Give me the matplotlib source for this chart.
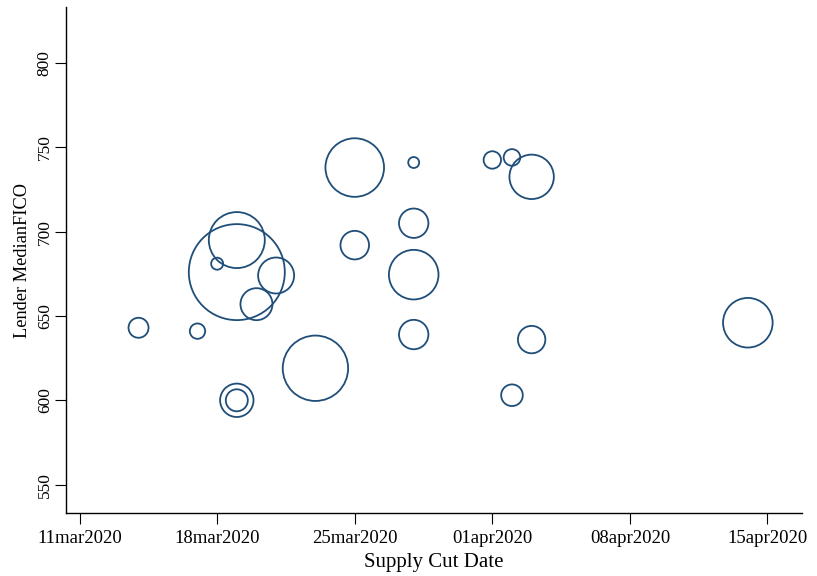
import matplotlib
matplotlib.use("Agg")
import matplotlib.pyplot as plt
import matplotlib.dates as mdates
import numpy as np
import datetime as dt

# ---- data ----
supply_cut_dates = ["2020-03-14", "2020-03-17", "2020-03-18", "2020-03-19", "2020-03-19",
                    "2020-03-19", "2020-03-19", "2020-03-20", "2020-03-21", "2020-03-23",
                    "2020-03-25", "2020-03-25", "2020-03-28", "2020-03-28", "2020-03-28",
                    "2020-03-28", "2020-04-01", "2020-04-02", "2020-04-03", "2020-04-02",
                    "2020-04-03", "2020-04-14"]
median_fico = [643, 641, 681, 676, 695, 600, 600, 657, 674, 619,
               738, 692, 741, 705, 674.5, 639, 742.5, 744, 732.5, 603,
               636, 646]
weights = [100, 59, 36, 2304, 784, 279, 121, 256, 324, 1069,
           858, 204, 30, 216, 615, 216, 76, 69, 493, 117,
           188, 615]
tick_dates = ["2020-03-11", "2020-03-18", "2020-03-25", "2020-04-01", "2020-04-08", "2020-04-15"]
tick_labels = ["11mar2020", "18mar2020", "25mar2020", "01apr2020", "08apr2020", "15apr2020"]
y_ticks = [550, 600, 650, 700, 750, 800]

plt.rcParams['font.family'] = ['Liberation Serif', 'DejaVu Serif']

fig = plt.figure(figsize=(8.17, 5.76), dpi=100)
ax = fig.add_axes([66/817, 1 - 513.3/576, (801.7 - 66)/817, (513.3 - 7)/576])

x = [dt.datetime.strptime(d, "%Y-%m-%d") for d in supply_cut_dates]
xn = mdates.date2num(x)
sizes = np.array(weights) * (2 * 0.72) ** 2
ax.scatter(xn, median_fico, s=sizes, facecolors='none', edgecolors='#1f4e79', linewidths=1.3)

tx = mdates.date2num([dt.datetime.strptime(d, "%Y-%m-%d") for d in tick_dates])
ax.set_xticks(tx)
ax.set_xticklabels(tick_labels, fontsize=13.5)
ax.set_xlim(tx[0] - 0.69, tx[0] + 36.74)

ax.set_yticks(y_ticks)
ax.set_yticklabels([str(v) for v in y_ticks], fontsize=12.5, rotation=90, va='center')
ax.set_ylim(533, 833.2)

ax.spines['top'].set_visible(False)
ax.spines['right'].set_visible(False)
for s in ['left', 'bottom']:
    ax.spines[s].set_linewidth(1.0)
ax.tick_params(axis='both', length=8, width=0.8, colors='black')
ax.tick_params(axis='x', pad=4)
ax.tick_params(axis='y', pad=1.5)

ax.set_xlabel("Supply Cut Date", fontsize=15, labelpad=4)
ax.set_ylabel("Lender MedianFICO", fontsize=13.2, labelpad=4)

fig.savefig("out.png", dpi=100)
